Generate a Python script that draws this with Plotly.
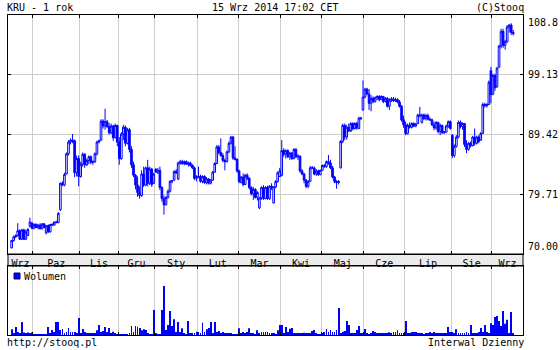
import pandas as pd
import plotly.graph_objects as go

# ---------------- data ----------------
holidays = ["2013-11-01", "2013-11-11", "2013-12-24", "2013-12-25", "2013-12-26",
            "2013-12-31", "2014-01-01", "2014-01-06", "2014-04-18", "2014-04-21",
            "2014-05-01", "2014-06-19", "2014-08-15"]

month_names = {1: "Sty", 2: "Lut", 3: "Mar", 4: "Kwi", 5: "Maj", 6: "Cze",
               7: "Lip", 8: "Sie", 9: "Wrz", 10: "Paz", 11: "Lis", 12: "Gru"}

price_open = [
    71.0, 72.2, 72.8, 73.0, 73.8, 72.4, 73.9, 72.4, 73.0, 74.5, 75.0,
    74.2, 74.8, 74.3, 74.7, 74.1, 74.9, 73.4, 74.6, 73.6, 74.8, 74.7, 75.2, 75.1, 77.2, 81.5, 81.2, 83.0, 86.3, 88.2, 88.5, 88.4, 83.2, 85.5,
    82.6, 84.6, 86.2, 84.5, 85.2, 85.8, 84.9, 85.0, 86.3, 88.2, 88.5, 91.6, 90.8, 91.5, 90.7, 89.7, 90.8, 88.9, 90.9,
    88.2, 85.5, 89.5, 90.6, 88.0, 90.2, 87.0, 84.5, 82.8, 81.2, 80.0, 79.5, 83.0, 81.2, 84.0, 81.5, 83.8, 81.5,
    83.8, 83.3, 83.6, 80.8, 79.0, 78.0, 79.2, 80.2, 81.8, 82.0, 83.4, 82.2, 84.8, 85.0, 84.7, 85.0, 84.6, 84.8, 84.4, 84.0, 82.3,
    82.5, 82.6, 81.8, 82.6, 81.6, 82.2, 81.5, 82.0, 83.3, 84.7, 87.4, 86.5, 86.0, 85.2, 85.0, 86.6, 88.0, 89.0, 85.6, 85.4,
    83.5, 81.6, 82.5, 81.3, 82.8, 82.3, 80.8, 79.8, 80.5, 79.2, 77.5, 79.1, 80.8, 79.0, 80.8, 79.0, 81.0, 78.3, 80.9, 81.8, 82.6,
    82.8, 86.8, 86.2, 86.8, 85.8, 86.4, 85.5, 87.0, 85.8, 85.9, 83.5, 83.0, 82.0, 81.0, 81.8, 84.0, 84.0, 83.0, 83.5, 82.9,
    83.6, 84.4, 84.2, 85.0, 84.8, 84.0, 82.5, 81.8, 81.6, 84.0, 88.3, 90.9, 89.0, 90.6, 90.0, 91.2, 90.4, 91.2, 90.4, 92.1, 93.4,
    95.5, 96.8, 96.0, 94.5, 95.3, 94.8, 95.4, 95.6, 95.1, 95.6, 94.8, 95.3, 94.0, 95.0, 95.2, 94.9, 95.1, 94.7, 94.0, 91.8,
    91.0, 89.6, 90.9, 90.6, 91.2, 90.8, 91.2, 92.6, 91.4, 92.6, 92.0, 92.5, 91.9, 91.8, 91.0, 90.5, 91.4, 89.9, 90.9, 89.7, 89.8, 90.8, 91.5,
    89.3, 86.0, 87.5, 89.0, 91.4, 90.7, 91.2, 87.8, 87.0, 88.0, 87.6, 89.0, 88.0, 89.0, 88.5, 89.6, 94.3, 94.1, 94.3, 99.8,
    96.0, 99.0, 97.2, 100.4, 103.8, 106.2, 103.9, 104.5, 106.9, 107.2, 106.0,
]
price_high = [
    72.3, 73.0, 73.2, 75.0, 74.0, 74.1, 74.1, 74.0, 74.2, 75.9, 75.2,
    75.0, 75.0, 74.9, 75.0, 75.0, 75.0, 74.7, 74.8, 74.9, 75.0, 75.3, 75.4, 76.8, 81.6, 81.8, 83.2, 86.5, 88.5, 88.8, 89.5, 88.6, 86.0, 86.0,
    85.0, 86.5, 86.4, 85.5, 86.0, 86.0, 85.2, 86.5, 88.4, 88.6, 91.9, 91.9, 93.6, 91.8, 91.3, 91.2, 91.0, 91.2, 91.0,
    89.0, 89.8, 91.0, 90.9, 90.5, 90.5, 87.5, 85.0, 83.0, 82.6, 81.0, 83.6, 84.2, 84.2, 85.3, 84.2, 84.0, 83.2,
    83.9, 84.0, 84.2, 81.0, 79.5, 79.4, 80.5, 82.0, 82.0, 83.6, 83.8, 85.0, 85.3, 85.3, 85.2, 85.2, 85.0, 85.0, 84.6, 84.2, 82.8,
    84.2, 82.9, 82.8, 82.8, 82.5, 82.3, 82.2, 83.5, 84.9, 87.7, 87.7, 88.8, 86.4, 85.5, 86.8, 88.3, 89.2, 89.2, 87.5, 85.5,
    83.7, 82.7, 83.1, 83.0, 83.1, 82.5, 81.0, 80.9, 80.7, 80.2, 79.3, 81.0, 81.2, 81.0, 81.1, 81.2, 81.5, 81.0, 82.0, 83.4, 84.0,
    88.5, 87.2, 87.0, 87.0, 86.6, 86.6, 87.2, 87.2, 86.2, 86.0, 83.8, 83.2, 82.2, 82.0, 84.3, 84.3, 84.2, 83.8, 83.7, 83.7,
    84.5, 84.6, 85.2, 86.1, 85.3, 84.3, 82.7, 82.0, 82.0, 88.5, 91.2, 91.2, 91.0, 91.2, 91.4, 91.4, 91.4, 91.5, 92.3, 92.3, 98.2,
    97.0, 97.0, 96.8, 95.8, 95.6, 95.6, 95.8, 95.8, 95.8, 95.7, 95.5, 95.5, 95.3, 95.5, 95.5, 95.4, 95.3, 95.0, 94.2, 92.5,
    91.5, 91.2, 91.4, 91.4, 91.4, 91.3, 92.8, 93.9, 92.8, 92.8, 92.8, 92.8, 92.2, 92.0, 91.5, 91.6, 91.4, 91.2, 91.0, 90.0, 91.0, 91.7, 91.7,
    89.5, 87.8, 89.3, 91.7, 91.7, 91.4, 91.3, 88.5, 88.2, 88.3, 89.2, 90.4, 89.2, 89.3, 89.8, 94.6, 94.6, 94.5, 98.2, 100.4,
    99.3, 99.3, 100.4, 104.0, 106.6, 106.6, 104.8, 107.2, 107.4, 107.5, 106.4,
]
price_low = [
    70.9, 72.0, 72.6, 72.8, 72.3, 72.3, 72.3, 72.3, 72.9, 74.3, 74.0,
    74.0, 74.2, 74.0, 74.0, 74.0, 74.2, 73.2, 73.4, 73.5, 74.6, 74.6, 75.0, 75.0, 77.0, 81.0, 81.0, 82.9, 86.0, 87.8, 88.0, 82.5, 82.6, 81.0,
    82.4, 84.2, 84.0, 84.3, 84.6, 84.6, 84.5, 84.8, 86.0, 88.0, 88.4, 90.4, 90.2, 90.5, 89.4, 89.5, 88.4, 88.8, 87.5,
    84.5, 85.3, 88.5, 87.5, 87.8, 86.5, 84.0, 82.5, 80.5, 79.3, 79.0, 79.3, 80.9, 81.0, 81.0, 81.2, 80.9, 81.4,
    83.2, 83.0, 80.4, 78.5, 76.4, 77.9, 79.0, 80.0, 81.5, 81.9, 83.0, 82.0, 84.5, 84.5, 84.4, 84.5, 84.2, 84.2, 83.8, 82.0, 81.8,
    82.3, 81.6, 81.5, 81.4, 81.3, 81.3, 81.3, 81.9, 83.2, 84.6, 86.2, 85.8, 84.9, 83.6, 84.9, 86.4, 87.8, 85.3, 85.2, 83.2,
    81.5, 81.5, 81.0, 81.2, 82.0, 80.5, 79.5, 78.8, 79.0, 78.7, 77.3, 78.8, 78.8, 78.9, 78.8, 78.8, 80.4, 78.2, 80.7, 81.6, 82.5,
    82.6, 85.8, 85.5, 85.6, 85.3, 85.3, 85.4, 85.6, 85.3, 83.2, 82.8, 81.5, 80.7, 80.7, 81.7, 83.8, 82.8, 82.7, 82.7, 82.8,
    83.5, 84.0, 84.0, 84.5, 83.8, 82.3, 81.5, 80.6, 81.3, 83.9, 88.0, 88.5, 88.6, 89.8, 89.8, 90.1, 90.2, 90.2, 90.3, 91.8, 93.3,
    95.3, 95.8, 93.4, 93.2, 94.5, 94.6, 95.0, 94.8, 95.0, 94.5, 94.6, 93.8, 93.4, 94.7, 94.7, 94.7, 94.5, 93.8, 91.5, 90.5,
    89.3, 89.4, 90.4, 90.4, 90.6, 90.6, 91.1, 92.2, 91.2, 91.8, 91.7, 91.7, 91.6, 90.8, 90.1, 90.2, 89.6, 89.3, 89.5, 89.5, 89.7, 90.5, 90.2,
    85.6, 85.7, 87.3, 88.8, 90.4, 90.2, 87.4, 86.4, 86.8, 87.3, 87.5, 87.6, 87.8, 88.0, 88.4, 89.5, 93.8, 93.8, 94.2, 94.5,
    95.8, 96.5, 97.0, 100.2, 103.4, 103.5, 103.2, 104.3, 106.0, 105.6, 105.5,
]
price_close = [
    72.2, 72.8, 73.0, 73.8, 72.4, 73.9, 72.4, 73.6, 74.0, 75.2, 74.2,
    74.8, 74.3, 74.7, 74.1, 74.9, 74.3, 74.6, 73.6, 74.8, 74.7, 75.2, 75.1, 76.6, 81.5, 81.2, 82.9, 86.3, 88.2, 88.5, 88.3, 83.2, 85.5, 82.6,
    84.6, 86.2, 84.5, 85.2, 85.8, 84.9, 85.0, 86.3, 88.2, 88.4, 91.6, 90.8, 91.5, 90.7, 89.7, 90.8, 88.9, 90.9, 88.2,
    85.5, 89.5, 90.6, 88.0, 90.2, 87.0, 84.5, 82.8, 81.2, 80.0, 79.5, 83.0, 81.2, 84.0, 81.5, 83.8, 81.3, 83.0,
    83.3, 83.6, 80.8, 79.0, 78.0, 79.2, 80.2, 81.8, 81.9, 83.4, 83.2, 84.8, 85.0, 84.7, 85.0, 84.6, 84.8, 84.4, 84.0, 82.3, 82.5,
    82.6, 81.8, 82.6, 81.6, 82.2, 81.5, 82.0, 83.3, 84.7, 87.4, 86.5, 86.0, 85.2, 85.0, 86.6, 88.0, 89.0, 85.6, 85.4, 83.5,
    81.8, 82.5, 81.3, 82.8, 82.3, 80.8, 79.8, 80.5, 79.2, 80.0, 79.1, 80.8, 79.0, 80.8, 79.0, 81.0, 80.8, 80.9, 81.8, 83.2, 83.5,
    86.8, 86.2, 86.8, 85.8, 86.4, 85.5, 87.0, 85.8, 85.9, 83.5, 83.0, 82.0, 81.0, 81.8, 84.0, 84.0, 83.0, 83.5, 82.9, 83.6,
    84.4, 84.2, 85.0, 84.8, 84.0, 82.5, 81.8, 81.6, 81.8, 88.3, 90.9, 89.0, 90.6, 90.0, 91.2, 90.4, 91.2, 90.5, 92.1, 92.0, 95.5,
    96.8, 96.0, 94.5, 95.3, 94.8, 95.4, 95.6, 95.1, 95.6, 94.8, 95.3, 94.0, 95.0, 95.2, 94.9, 95.1, 94.7, 94.0, 91.8, 91.0,
    89.6, 90.9, 90.6, 91.2, 90.8, 91.1, 92.6, 92.5, 92.6, 92.0, 92.5, 91.9, 91.8, 91.0, 90.5, 91.4, 89.9, 90.9, 89.7, 89.8, 90.8, 91.5, 90.4,
    86.0, 87.5, 89.0, 91.4, 90.7, 91.2, 87.8, 87.0, 88.0, 87.6, 89.0, 88.0, 89.0, 88.3, 89.6, 94.3, 94.1, 94.3, 97.9, 95.9,
    99.0, 97.0, 100.2, 103.8, 106.2, 103.9, 104.5, 106.9, 107.2, 106.0, 105.8,
]
volume_k = [
    5.7, 2, 8, 3, 2, 13, 2.5, 2, 2.5, 2, 2.5,
    1, 1, 1, 1, 1, 1, 1, 8, 2, 5, 3, 13, 13, 5, 6, 2, 3, 7, 3, 3, 3, 2, 17,
    2, 6, 3, 1.5, 1.5, 1.5, 2, 2, 4.7, 10, 3, 4, 8, 3, 7, 2, 3.3, 1.5, 1,
    1, 1, 1, 1, 1, 1.5, 9, 3, 9, 8.3, 7, 4.7, 5.7, 5, 2, 1, 1, 25,
    2, 1, 1, 25, 49, 5, 10, 24, 9, 15.7, 3, 13, 3, 6.7, 2, 1, 14, 2, 2, 2, 3.3,
    3, 2, 12.3, 3, 5.7, 7, 13, 2, 13, 3, 4, 2, 3, 2, 2, 2, 2, 1, 1, 1,
    6.7, 2, 3, 2, 3, 6.7, 2, 2, 1, 4.7, 2, 3, 3, 3, 3, 2, 2, 2, 1, 4.7, 10,
    10, 2, 8, 3, 6.3, 7, 2, 1.5, 1.5, 1.5, 1.5, 2.3, 1.5, 1.5, 1.5, 4, 5, 2, 1, 1,
    2, 3, 6, 3, 5, 3, 3, 5, 27, 2, 3.3, 4, 14, 10, 2, 2, 2, 5, 9, 2, 2,
    6, 2, 1, 1.5, 4, 3, 1.5, 1.5, 1.5, 1.5, 1.5, 1.5, 2.7, 2, 3, 3, 4.7, 2, 2, 2,
    14, 2, 2, 3, 3, 3, 2, 2, 2, 1, 2, 2, 3, 2, 3, 2, 2, 2, 2, 2, 2, 8, 3,
    3, 2, 5.7, 2, 2, 2, 2, 3, 2, 10, 2, 2, 2, 3, 7, 3, 10, 3, 2, 11.7,
    10, 18, 19, 14, 9, 24, 11.3, 15.3, 2, 23, 2,
]
price_ticks = [70.00, 79.71, 89.42, 99.13, 108.84]
price_tick_text = ["70.00", "79.71", "89.42", "99.13", "108.8"]

# ---------------- derived axes ----------------
days = pd.bdate_range("2013-09-16", "2014-09-15")
days = days[~days.isin(pd.to_datetime(holidays))]
n = len(days)
assert n == len(price_open) == len(price_high) == len(price_low) == len(price_close) == len(volume_k)
idx = list(range(n))

x_start, x_end = -1.8, n + 3.8
month_key = [d.month for d in days]
bounds = [i - 0.5 for i in range(1, n) if month_key[i] != month_key[i - 1]]
edges = [x_start] + bounds + [x_end]
centers = [(edges[k] + edges[k + 1]) / 2 for k in range(len(edges) - 1)]
labels = [month_names[month_key[0]]] + [month_names[month_key[int(b + 0.5)]] for b in bounds]

BLUE = "#0000ff"
GRID = "#cccccc"
FONT = "DejaVu Sans Mono"

fig = go.Figure()
fig.add_trace(go.Candlestick(
    x=idx, open=price_open, high=price_high, low=price_low, close=price_close,
    increasing=dict(line=dict(color=BLUE, width=1), fillcolor="#ffffff"),
    decreasing=dict(line=dict(color=BLUE, width=1), fillcolor=BLUE),
    whiskerwidth=0, xaxis="x", yaxis="y", showlegend=False, hoverinfo="skip",
))
fig.add_trace(go.Bar(
    x=idx, y=volume_k, marker=dict(color=BLUE, line=dict(width=0)), width=0.42,
    xaxis="x2", yaxis="y2", showlegend=False, hoverinfo="skip",
))

PH = 320.0
dom_price = [81 / PH, 1]
dom_vol = [0, 69 / PH]

minor_grid = dict(tickmode="array", tickvals=bounds, showgrid=True, gridcolor=GRID,
                  gridwidth=1, ticks="inside", ticklen=3, tickcolor="black")

fig.update_layout(
    width=560, height=350,
    margin=dict(l=8, r=37, t=15, b=15),
    paper_bgcolor="white", plot_bgcolor="white",
    font=dict(family=FONT, size=10, color="black"),
    boxgap=0.2, boxgroupgap=0,
    xaxis=dict(domain=[0, 1], anchor="y", range=[x_start, x_end],
               tickmode="array", tickvals=centers, ticktext=labels, ticks="",
               showgrid=False, zeroline=False, showline=True, linecolor="black",
               linewidth=1, mirror="ticks", minor=minor_grid,
               rangeslider=dict(visible=False), ticklabelstandoff=0,
               tickfont=dict(family=FONT, size=10)),
    yaxis=dict(domain=dom_price, anchor="x", range=[price_ticks[0], price_ticks[-1]],
               side="right", tickmode="array", tickvals=price_ticks,
               showticklabels=False, ticks="inside", ticklen=3, tickcolor="black",
               showgrid=True, gridcolor=GRID, zeroline=False, showline=True,
               linecolor="black", linewidth=1, mirror="ticks"),
    xaxis2=dict(domain=[0, 1], anchor="y2", range=[x_start, x_end],
                tickmode="array", tickvals=[], showticklabels=False, ticks="",
                showgrid=False, zeroline=False, showline=True, linecolor="black",
                linewidth=1, mirror="ticks", minor=minor_grid),
    yaxis2=dict(domain=dom_vol, anchor="x2", range=[0, 69], showticklabels=False,
                showgrid=False, zeroline=False, showline=True, linecolor="black",
                linewidth=1, mirror=True, ticks=""),
    shapes=[
        dict(type="rect", xref="paper", yref="paper", x0=0, x1=1,
             y0=dom_vol[1], y1=dom_price[0], fillcolor="#ebebeb",
             line=dict(color="black", width=1), layer="below"),
        dict(type="rect", xref="paper", yref="paper", x0=6 / 515, x1=12 / 515,
             y0=56 / PH, y1=62 / PH, fillcolor=BLUE,
             line=dict(color="#000080", width=1), layer="above"),
    ],
)

ann = []
for v, t in zip(price_ticks, price_tick_text):
    anchor = "top" if v == price_ticks[-1] else ("bottom" if v == price_ticks[0] else "middle")
    ann.append(dict(x=1, xref="paper", y=v, yref="y", text=t, showarrow=False,
                    xanchor="left", yanchor=anchor, xshift=3, font=dict(size=10)))
ann += [
    dict(x=0, xref="paper", y=1, yref="paper", text="KRU - 1 rok", showarrow=False,
         xanchor="left", yanchor="bottom", xshift=-3, yshift=0),
    dict(x=(275 - 8) / 515, xref="paper", y=1, yref="paper", text="15 Wrz 2014 17:02 CET",
         showarrow=False, xanchor="center", yanchor="bottom", yshift=0),
    dict(x=1, xref="paper", y=1, yref="paper", text="(C)Stooq", showarrow=False,
         xanchor="right", yanchor="bottom", xshift=3, yshift=0),
    dict(x=0, xref="paper", y=0, yref="paper", text="http://stooq.pl", showarrow=False,
         xanchor="left", yanchor="top", xshift=-3),
    dict(x=1, xref="paper", y=0, yref="paper", text="Interwal Dzienny", showarrow=False,
         xanchor="right", yanchor="top", xshift=3),
    dict(x=17 / 515, xref="paper", y=59 / PH, yref="paper", text="Wolumen", showarrow=False,
         xanchor="left", yanchor="middle", xshift=-3),
]
fig.update_layout(annotations=ann)

fig.write_html("out.html")
